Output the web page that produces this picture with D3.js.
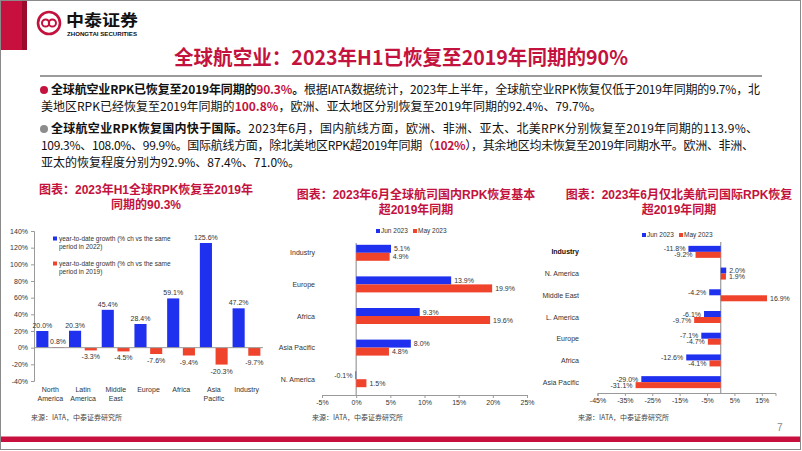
<!DOCTYPE html>
<html><head><meta charset="utf-8">
<script src="https://cdn.jsdelivr.net/npm/d3@7"></script>
<style>body{margin:0;background:#fff} svg{display:block}</style>
</head><body>
<svg id="c" width="802" height="451"></svg>
<script>
// ---------- data ----------
const labels1 = [["North","America"],["Latin","America"],["Middle","East"],["Europe"],["Africa"],["Asia","Pacific"],["Industry"]];
const ytd2022 = [20.0, 20.3, 45.4, 28.4, 59.1, 125.6, 47.2];
const ytd2019 = [0.8, -3.3, -4.5, -7.6, -9.4, -20.3, -9.7];
const yTicks1 = [-40, -20, 0, 20, 40, 60, 80, 100, 120, 140];

const domCats = ["Industry", "Europe", "Africa", "Asia Pacific", "N. America"];
const domJun = [5.1, 13.9, 9.3, 8.0, -0.1];
const domMay = [4.9, 19.9, 19.6, 4.8, 1.5];
const domTicks = [-5, 0, 5, 10, 15, 20, 25];

const intlCats = ["Industry", "N. America", "Middle East", "L. America", "Europe", "Africa", "Asia Pacific"];
const intlJun = [-11.8, 2.0, -4.2, -6.1, -7.1, -12.6, -29.0];
const intlMay = [-9.2, 1.9, 16.9, -9.7, -4.7, -4.1, -31.1];
const intlTicks = [-45, -35, -25, -15, -5, 5, 15];

const seriesNames = ["Jun 2023", "May 2023"];
const legend1 = [["year-to-date growth (% ch vs the same", "period in 2022)"], ["year-to-date growth (% ch vs the same", "period in 2019)"]];

// ---------- style ----------
const RED = "#C3123D", BLUE = "#1F31EE", ORANGE = "#F0432C", AXIS = "#9a9a9a", TXT = "#333";
const CJK = "'Noto Sans CJK SC', 'Noto Sans', sans-serif";
const LAT = "'Liberation Sans', Arial, sans-serif";
const svg = d3.select("#c");

function justify(sel, target) {
  const node = sel.node();
  const w = node.getComputedTextLength();
  const n = node.textContent.length;
  if (n > 1) sel.attr("letter-spacing", (target - w) / (n - 1));
}

// ---------- frame ----------
svg.append("rect").attr("x", 0.5).attr("y", 0.5).attr("width", 800).attr("height", 449)
  .attr("fill", "#fff").attr("stroke", "#8a8a8a");
svg.append("rect").attr("x", 1).attr("y", 1).attr("width", 21).attr("height", 49).attr("fill", "#C8103E");
svg.append("rect").attr("x", 22).attr("y", 1).attr("width", 5).attr("height", 49).attr("fill", "#9C0A2E");
svg.append("rect").attr("x", 1).attr("y", 436.5).attr("width", 799).attr("height", 5.5).attr("fill", "#C8103E");
svg.append("text").attr("x", 777).attr("y", 431).attr("font-family", LAT).attr("font-size", 10)
  .attr("fill", "#888").text("7");

// logo
const lg = svg.append("g");
lg.append("circle").attr("cx", 49).attr("cy", 23).attr("r", 11).attr("fill", "none").attr("stroke", RED).attr("stroke-width", 2.6);
lg.append("circle").attr("cx", 45.6).attr("cy", 23).attr("r", 3.6).attr("fill", "none").attr("stroke", RED).attr("stroke-width", 2);
lg.append("circle").attr("cx", 52.4).attr("cy", 23).attr("r", 3.6).attr("fill", "none").attr("stroke", RED).attr("stroke-width", 2);
lg.append("text").attr("x", 66).attr("y", 26.3).attr("font-family", CJK).attr("font-weight", 700)
  .attr("font-size", 16).attr("fill", "#111").attr("textLength", 72).attr("lengthAdjust", "spacingAndGlyphs").text("中泰证券");
lg.append("text").attr("x", 67).attr("y", 35.7).attr("font-family", LAT).attr("font-weight", 700)
  .attr("font-size", 5).attr("fill", "#111").attr("textLength", 70).attr("lengthAdjust", "spacingAndGlyphs").text("ZHONGTAI SECURITIES");

// title
svg.append("text").attr("x", 401).attr("y", 65).attr("text-anchor", "middle").attr("font-family", CJK)
  .attr("font-weight", 700).attr("font-size", 20).attr("fill", RED)
  .attr("textLength", 454).attr("lengthAdjust", "spacingAndGlyphs")
  .text("全球航空业：2023年H1已恢复至2019年同期的90%");
svg.append("line").attr("x1", 40).attr("x2", 762).attr("y1", 76).attr("y2", 76).attr("stroke", "#7a7a7a").attr("stroke-width", 1.5);

// ---------- bullets ----------
const paraLines = [
  {y: 94, x: 51, just: 760, parts: [["全球航空业RPK已恢复至2019年同期的", "b"], ["90.3%", "r"], ["。", "b"], ["根据IATA数据统计，2023年上半年，全球航空业RPK恢复仅低于2019年同期的9.7%，北", "n"]]},
  {y: 111, x: 41, just: null, parts: [["美地区RPK已经恢复至2019年同期的", "n"], ["100.8%", "r"], ["，欧洲、亚太地区分别恢复至2019年同期的92.4%、79.7%。", "n"]]},
  {y: 133, x: 51, just: 758, parts: [["全球航空业RPK恢复国内快于国际。", "b"], ["2023年6月，国内航线方面，欧洲、非洲、亚太、北美RPK分别恢复至2019年同期的113.9%、", "n"]]},
  {y: 150, x: 41, just: 754, parts: [["109.3%、108.0%、99.9%。国际航线方面，除北美地区RPK超2019年同期（", "n"], ["102%", "r"], ["），其余地区均未恢复至2019年同期水平。欧洲、非洲、", "n"]]},
  {y: 167, x: 41, just: null, parts: [["亚太的恢复程度分别为92.9%、87.4%、71.0%。", "n"]]}
];
svg.append("circle").attr("cx", 44).attr("cy", 90).attr("r", 4).attr("fill", RED);
svg.append("circle").attr("cx", 44).attr("cy", 129).attr("r", 4).attr("fill", "#8c8c8c");
paraLines.forEach(L => {
  const t = svg.append("text").attr("x", L.x).attr("y", L.y).attr("font-family", CJK).attr("font-size", 12).attr("fill", "#222");
  L.parts.forEach(p => {
    t.append("tspan").text(p[0])
      .attr("font-weight", p[1] === "n" ? 400 : 700)
      .attr("fill", p[1] === "r" ? RED : "#111");
  });
  if (L.just) justify(t, L.just - L.x);
});

// ---------- chart titles & sources ----------
function chartTitle(cx, y, lines) {
  const t = svg.append("text").attr("text-anchor", "middle")
    .attr("font-family", "'Liberation Sans', 'Noto Sans CJK SC', sans-serif").attr("font-weight", 700)
    .attr("font-size", 12).attr("fill", RED);
  lines.forEach((s, i) => t.append("tspan").attr("x", cx).attr("y", y + i * 15).text(s));
}
chartTitle(146, 194, ["图表：2023年H1全球RPK恢复至2019年", "同期的90.3%"]);
chartTitle(416, 199, ["图表：2023年6月全球航司国内RPK恢复基本", "超2019年同期"]);
chartTitle(679, 199, ["图表：2023年6月仅北美航司国际RPK恢复", "超2019年同期"]);
[31, 312, 578].forEach(x => svg.append("text").attr("x", x).attr("y", 420).attr("font-family", CJK)
  .attr("font-size", 7).attr("fill", "#444").text("来源：IATA，中泰证券研究所"));

function styleAxis(g) {
  g.selectAll("path.domain").attr("stroke", AXIS);
  g.selectAll(".tick line").attr("stroke", AXIS);
  g.selectAll(".tick text").attr("font-family", LAT).attr("font-size", 7).attr("fill", TXT);
}

// ---------- chart 1 ----------
{
  const idx = d3.range(labels1.length);
  const x = d3.scaleBand().domain(idx).range([34, 263]);
  const y = d3.scaleLinear().domain([-40, 140]).range([381, 231]);
  const bw = x.bandwidth();
  const g = svg.append("g");
  const ax = g.append("g").attr("transform", "translate(34,0)")
    .call(d3.axisLeft(y).tickValues(yTicks1).tickSize(3).tickPadding(3).tickFormat(d => d + "%"));
  styleAxis(ax);
  const series = [[ytd2022, BLUE, 0.07], [ytd2019, ORANGE, 0.55]];
  series.forEach(([vals, col, off]) => {
    g.selectAll(null).data(vals).enter().append("rect")
      .attr("x", (d, i) => x(i) + bw * off).attr("width", bw * 0.37)
      .attr("y", d => y(Math.max(0, d))).attr("height", d => Math.abs(y(d) - y(0)))
      .attr("fill", col);
    g.selectAll(null).data(vals).enter().append("text")
      .attr("x", (d, i) => x(i) + bw * off + bw * 0.185)
      .attr("y", d => d >= 0 ? y(d) - 3 : y(d) + 9)
      .attr("text-anchor", "middle").attr("font-family", LAT).attr("font-size", 7).attr("fill", TXT)
      .text(d => d.toFixed(1) + "%");
  });
  g.append("line").attr("x1", 34).attr("x2", 263).attr("y1", y(0)).attr("y2", y(0)).attr("stroke", AXIS);
  labels1.forEach((ls, i) => ls.forEach((s, j) => g.append("text").attr("x", x(i) + bw / 2).attr("y", 392 + j * 9)
    .attr("text-anchor", "middle").attr("font-family", LAT).attr("font-size", 7).attr("fill", TXT).text(s)));
  [[BLUE, 239], [ORANGE, 264]].forEach(([c, yy], k) => {
    g.append("rect").attr("x", 53).attr("y", yy - 2.5).attr("width", 4).attr("height", 4).attr("fill", c);
    legend1[k].forEach((s, j) => g.append("text").attr("x", 59).attr("y", yy + 2.3 + j * 8)
      .attr("font-family", LAT).attr("font-size", 6.5).attr("fill", TXT).text(s));
  });
}

// ---------- horizontal bar chart helper ----------
function hbars(cats, jun, may, ticks, xDom, xRange, yRange, barH, labelX, zeroTop, legendX, legendY, boldFirst) {
  const g = svg.append("g");
  const x = d3.scaleLinear().domain(xDom).range(xRange);
  const yb = d3.scaleBand().domain(cats).range(yRange);
  const bw = yb.bandwidth();
  const ax = g.append("g").attr("transform", `translate(0,${yRange[1]})`)
    .call(d3.axisBottom(x).tickValues(ticks).tickSize(3).tickPadding(2).tickFormat(d => d + "%"));
  styleAxis(ax);
  g.append("line").attr("x1", x(0)).attr("x2", x(0)).attr("y1", zeroTop).attr("y2", yRange[1]).attr("stroke", AXIS).attr("stroke-width", 1.2);
  [[jun, BLUE, -1], [may, ORANGE, 0]].forEach(([vals, col, k]) => {
    const yy = c => yb(c) + bw / 2 + k * barH;
    g.selectAll(null).data(vals).enter().append("rect")
      .attr("x", d => x(Math.min(0, d))).attr("width", d => Math.abs(x(d) - x(0)))
      .attr("y", (d, i) => yy(cats[i])).attr("height", barH).attr("fill", col);
    g.selectAll(null).data(vals).enter().append("text")
      .attr("x", d => d >= 0 ? x(d) + 3 : x(d) - 3)
      .attr("y", (d, i) => yy(cats[i]) + barH / 2 + 2.5)
      .attr("text-anchor", d => d >= 0 ? "start" : "end")
      .attr("font-family", LAT).attr("font-size", 7).attr("fill", TXT).text(d => d.toFixed(1) + "%");
  });
  cats.forEach((c, i) => g.append("text").attr("x", labelX).attr("y", yb(c) + bw / 2 + 2.5).attr("text-anchor", "end")
    .attr("font-family", LAT).attr("font-size", 7).attr("font-weight", boldFirst && i === 0 ? 700 : 400)
    .attr("fill", boldFirst && i === 0 ? "#111" : TXT).text(c));
  [[BLUE, 0], [ORANGE, 1]].forEach(([col, k]) => {
    const lx = legendX + k * 37;
    g.append("rect").attr("x", lx).attr("y", legendY - 2).attr("width", 4).attr("height", 4).attr("fill", col);
    g.append("text").attr("x", lx + 5).attr("y", legendY + 2.3).attr("font-family", LAT).attr("font-size", 6.5)
      .attr("fill", TXT).text(seriesNames[k]);
  });
}
hbars(domCats, domJun, domMay, domTicks, [-5, 25], [322, 527], [237, 395], 8, 315, 243, 376, 231, false);
hbars(intlCats, intlJun, intlMay, intlTicks, [-45, 20], [597.5, 775.5], [241, 393], 6, 579, 242, 642, 235, true);
</script></body></html>
